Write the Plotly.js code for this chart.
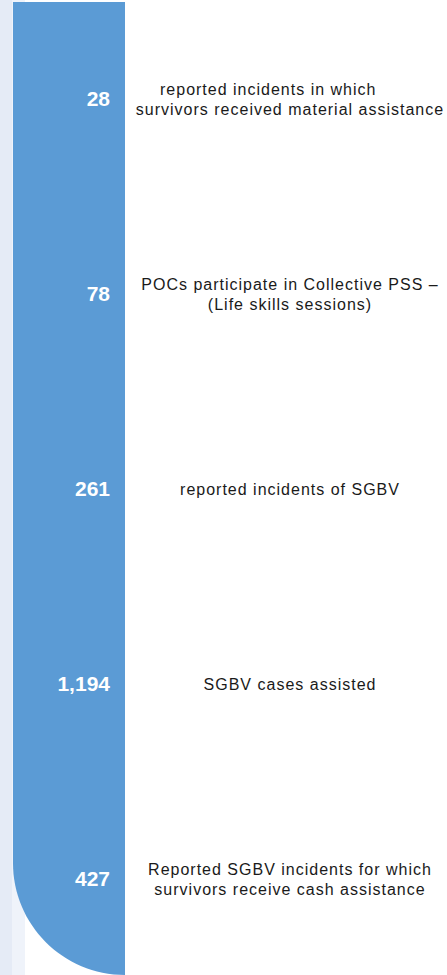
<!DOCTYPE html>
<html>
<head>
<meta charset="utf-8">
<script src="https://cdn.plot.ly/plotly-3.0.1.min.js"></script>
<style>
  html, body { margin: 0; padding: 0; background: #ffffff; }
  #chart { width: 447px; height: 975px; }
  #chart .trace:nth-child(2) text { letter-spacing: 1px; }
</style>
</head>
<body>
<div id="chart"></div>
<script>
// ---- data ----
const categories = [
  "reported incidents in which\u00a0\u00a0\u00a0\u00a0\u00a0\u00a0\u00a0\u00a0<br>survivors received material assistance",
  "POCs participate in Collective PSS –<br>(Life skills sessions)",
  "reported incidents of SGBV",
  "SGBV cases assisted",
  "Reported SGBV incidents for which<br>survivors receive cash assistance"
];
const values = [28, 78, 261, 1194, 427];
const columns = ["value", "description"];

// ---- layout helpers (pixel -> paper) ----
const W = 447, H = 975;
const px = x => x / W;
const py = y => 1 - y / H;

const blue = "#5b9bd5";
const kb = 0.5523;
const rad = 112;
const bandL = 13, bandR = 125, bandT = 2, bandB = 975;
const bandPath =
  "M " + px(bandL) + "," + py(bandT) +
  " L " + px(bandR) + "," + py(bandT) +
  " L " + px(bandR) + "," + py(bandB) +
  " C " + px(bandR - rad * kb) + "," + py(bandB) + " " +
          px(bandL) + "," + py(bandB - rad + rad * kb) + " " +
          px(bandL) + "," + py(bandB - rad) +
  " Z";

const shapes = [
  { type: "rect", xref: "paper", yref: "paper", x0: 0, x1: px(12), y0: 0, y1: 1,
    fillcolor: "#e5ebf6", line: { width: 0 }, layer: "below" },
  { type: "rect", xref: "paper", yref: "paper", x0: px(12), x1: px(25), y0: 0, y1: 1,
    fillcolor: "#eff3fa", line: { width: 0 }, layer: "below" },
  { type: "path", xref: "paper", yref: "paper", path: bandPath,
    fillcolor: blue, line: { width: 0 }, layer: "below" }
];

const numTrace = {
  type: "scatter",
  mode: "text",
  x: values.map(() => columns[0]),
  y: categories,
  text: values.map(v => v.toLocaleString("en-US")),
  textposition: "middle left",
  textfont: { family: "Liberation Sans, Arial, sans-serif", size: 21, color: "#ffffff", weight: "bold" },
  hoverinfo: "skip",
  cliponaxis: false
};

const descTrace = {
  type: "scatter",
  mode: "text",
  x: categories.map(() => columns[1]),
  y: categories,
  text: categories,
  textposition: "middle center",
  textfont: { family: "Liberation Sans, Arial, sans-serif", size: 16, color: "#1a1a1a" },
  hoverinfo: "skip",
  cliponaxis: false
};

// category index 0 at pixel 110, index 1 at pixel 290 (180 px per step)
const xr = [-110 / 180, (W - 110) / 180];
// category index 0 at pixel 101, step 195 px
const yr = [(H - 101) / 195, -101 / 195];

const layout = {
  width: W, height: H,
  margin: { l: 0, r: 0, t: 0, b: 0 },
  paper_bgcolor: "#ffffff",
  plot_bgcolor: "rgba(0,0,0,0)",
  showlegend: false,
  shapes: shapes,
  xaxis: { type: "category", categoryorder: "array", categoryarray: columns,
           range: xr, visible: false, fixedrange: true },
  yaxis: { type: "category", categoryorder: "array", categoryarray: categories,
           range: yr, visible: false, fixedrange: true }
};

Plotly.newPlot("chart", [numTrace, descTrace], layout, { staticPlot: true, displayModeBar: false });
</script>
</body>
</html>
